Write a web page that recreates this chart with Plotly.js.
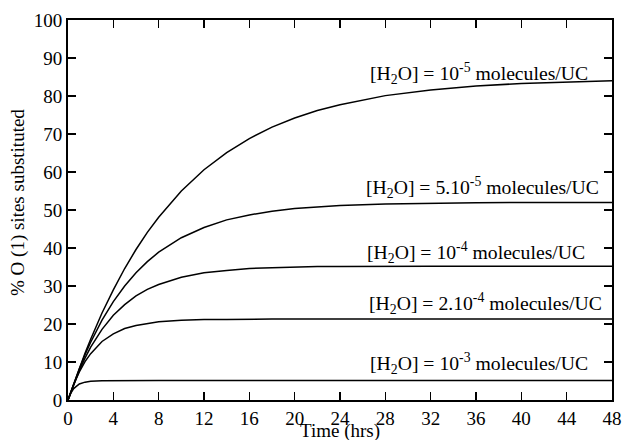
<!DOCTYPE html>
<html>
<head>
<meta charset="utf-8">
<script src="https://cdn.plot.ly/plotly-3.0.1.min.js"></script>
<style>html,body{margin:0;padding:0;background:#fff}#chart{width:622px;height:440px}</style>
</head>
<body>
<div id="chart"></div>
<script>
// Time (hrs)
var timeA = [0, 0.5, 1, 1.5, 2, 3, 4, 5, 6, 7, 8, 10, 12, 14, 16, 18, 20, 22, 24, 28, 32, 36, 40, 44, 48];
var timeC = [0, 0.25, 0.5, 0.75, 1, 1.5, 2, 3, 4, 8, 16, 24, 32, 40, 48];

// % O(1) sites substituted
var conc1e5 = [0, 4.3, 8.4, 12.3, 16.0, 22.9, 29.0, 34.6, 39.6, 44.1, 48.1, 55.0, 60.6, 65.1, 68.8, 71.8, 74.2, 76.2, 77.7, 80.1, 81.6, 82.6, 83.3, 83.7, 84.0];
var conc5e5 = [0, 4.3, 8.2, 11.9, 15.2, 21.0, 25.9, 30.0, 33.5, 36.4, 38.9, 42.7, 45.4, 47.4, 48.7, 49.7, 50.4, 50.8, 51.2, 51.6, 51.8, 51.9, 52.0, 52.0, 52.0];
var conc1e4 = [0, 4.1, 7.8, 11.0, 13.9, 18.6, 22.3, 25.1, 27.4, 29.1, 30.4, 32.3, 33.5, 34.1, 34.6, 34.8, 35.0, 35.1, 35.1, 35.2, 35.2, 35.2, 35.2, 35.2, 35.2];
var conc2e4 = [0, 4.1, 7.4, 10.1, 12.2, 15.4, 17.4, 18.8, 19.6, 20.2, 20.6, 21.0, 21.2, 21.2, 21.3, 21.3, 21.3, 21.3, 21.3, 21.3, 21.3, 21.3, 21.3, 21.3, 21.3];
var conc1e3 = [0, 1.8, 3.0, 3.7, 4.2, 4.7, 4.95, 5.07, 5.1, 5.1, 5.1, 5.1, 5.1, 5.1, 5.1];

var labels = [
  "[H<sub>2</sub>O] = 10<sup>-5</sup> molecules/UC",
  "[H<sub>2</sub>O] = 5.10<sup>-5</sup> molecules/UC",
  "[H<sub>2</sub>O] = 10<sup>-4</sup> molecules/UC",
  "[H<sub>2</sub>O] = 2.10<sup>-4</sup> molecules/UC",
  "[H<sub>2</sub>O] = 10<sup>-3</sup> molecules/UC"
];
var labelX = [46.1, 47.0, 45.8, 47.3, 46.1];
var labelY = [86.0, 55.8, 38.7, 25.5, 9.7];

var xTitle = 'Time (hrs)';
var yTitle = '% O (1) sites substituted';
var xTicks = [0, 4, 8, 12, 16, 20, 24, 28, 32, 36, 40, 44, 48];
var yTicks = [0, 10, 20, 30, 40, 50, 60, 70, 80, 90, 100];

var series = [[timeA, conc1e5], [timeA, conc5e5], [timeA, conc1e4], [timeA, conc2e4], [timeC, conc1e3]];
var traces = series.map(function (s) {
  return {x: s[0], y: s[1], mode: 'lines', type: 'scatter',
          line: {color: '#000', width: 1.5}, hoverinfo: 'none'};
});

var font = '"Liberation Serif", Tinos, "Times New Roman", "DejaVu Serif", serif';
var annotations = labels.map(function (t, i) {
  return {x: labelX[i], y: labelY[i], xref: 'x', yref: 'y', text: t, showarrow: false,
          xanchor: 'right', yanchor: 'middle', font: {family: font, size: 19.7, color: '#000'}};
});
annotations.push({xref: 'paper', yref: 'paper', x: 0.5, y: -0.0816, text: xTitle, showarrow: false,
  xanchor: 'center', yanchor: 'middle', font: {family: font, size: 19, color: '#000'}});
annotations.push({xref: 'paper', yref: 'paper', x: -0.092, y: 0.521, text: yTitle, showarrow: false,
  textangle: -90, xanchor: 'center', yanchor: 'middle', font: {family: font, size: 19, color: '#000'}});

var layout = {
  width: 622, height: 440,
  margin: {l: 68, r: 10, t: 20, b: 40},
  paper_bgcolor: '#fff', plot_bgcolor: '#fff',
  showlegend: false,
  font: {family: font, size: 19, color: '#000'},
  xaxis: {
    range: [0, 48], tickvals: xTicks, ticktext: xTicks.map(String),
    ticks: 'inside', ticklen: 8, tickwidth: 1.5, tickcolor: '#000',
    showline: true, linecolor: '#000', linewidth: 2, mirror: 'ticks',
    showgrid: false, zeroline: false,
    tickfont: {family: font, size: 19, color: '#000'}
  },
  yaxis: {
    range: [0, 100], tickvals: yTicks, ticktext: yTicks.map(String),
    ticks: 'inside', ticklen: 8, tickwidth: 1.5, tickcolor: '#000',
    showline: true, linecolor: '#000', linewidth: 2, mirror: 'ticks',
    showgrid: false, zeroline: false,
    tickfont: {family: font, size: 19, color: '#000'}
  },
  annotations: annotations
};

Plotly.newPlot('chart', traces, layout, {staticPlot: true, displayModeBar: false});
</script>
</body>
</html>
